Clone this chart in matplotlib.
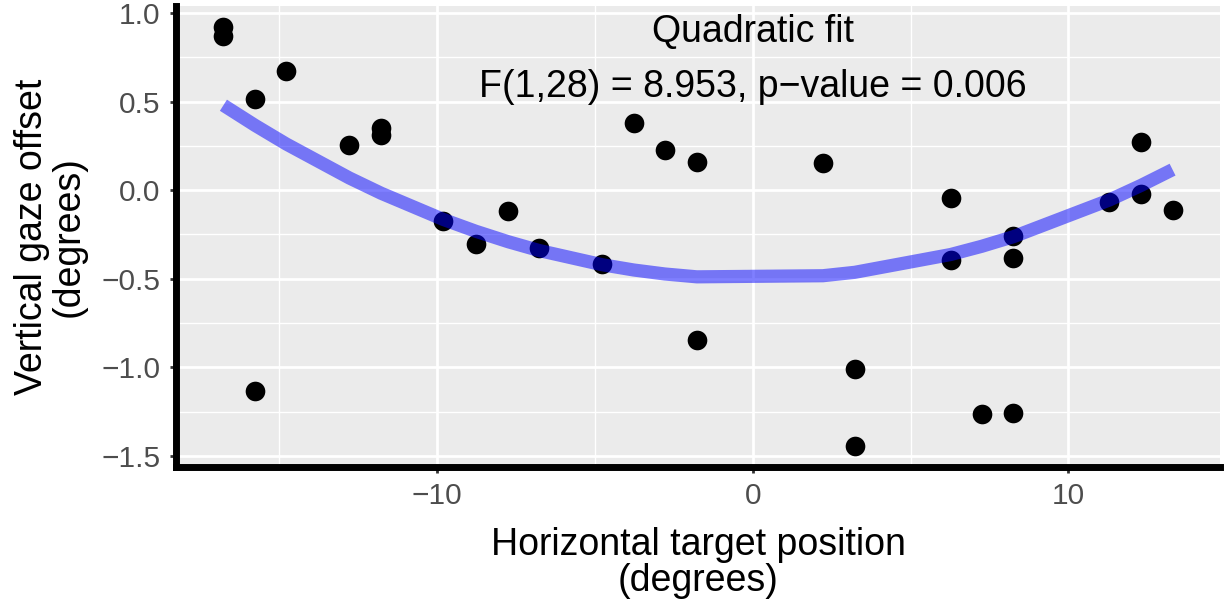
import numpy as np
import matplotlib.pyplot as plt
from matplotlib.ticker import MultipleLocator

plt.rcParams['font.family'] = ['Liberation Sans', 'DejaVu Sans']

# horizontal target position (deg) and vertical gaze offset (deg)
target_x = [-16.77, -16.77, -15.76, -15.76, -14.78, -12.78, -11.77, -11.77,
            -9.81, -8.77, -7.75, -6.77, -4.78, -3.77, -2.78, -1.77, -1.77,
            2.22, 3.23, 3.23, 6.27, 6.27, 7.25, 8.26, 8.26, 8.26,
            11.3, 12.3, 12.3, 13.3]
gaze_y = [0.921, 0.871, 0.517, -1.135, 0.674, 0.253, 0.348, 0.309,
          -0.174, -0.303, -0.118, -0.326, -0.416, 0.376, 0.225, 0.157, -0.843,
          0.152, -1.011, -1.444, -0.045, -0.393, -1.264, -0.258, -0.382, -1.258,
          -0.067, 0.270, -0.022, -0.112]

fit_title = 'Quadratic fit'
fit_stats = 'F(1,28) = 8.953, p\u2212value = 0.006'

x = np.array(target_x)
y = np.array(gaze_y)

# y = a + b*x^2 fit, evaluated at the observed positions
A = np.column_stack([np.ones_like(x), x ** 2])
coef = np.linalg.lstsq(A, y, rcond=None)[0]
xs = np.unique(x)
ys = coef[0] + coef[1] * xs ** 2

fig = plt.figure(figsize=(12.28, 6.05), dpi=100)
ax = fig.add_axes([0.1433, 0.228, 0.8502, 0.7622])
ax.set_facecolor('#EBEBEB')

ax.scatter(x, y, s=200, color='black', zorder=2, linewidths=0)
ax.plot(xs, ys, color='blue', alpha=0.5, lw=9.5, zorder=3,
        solid_capstyle='butt', solid_joinstyle='round')

ax.text(0, 0.89, fit_title, ha='center', va='center', fontsize=27)
ax.text(0, 0.58, fit_stats, ha='center', va='center', fontsize=27)

# ggplot-like 5% expansion
dx = (x.max() - x.min()) * 0.05
dy = (y.max() - y.min()) * 0.05
ax.set_xlim(x.min() - dx, x.max() + dx)
ax.set_ylim(y.min() - dy, y.max() + dy)

ax.xaxis.set_major_locator(MultipleLocator(10))
ax.xaxis.set_minor_locator(MultipleLocator(5))
ax.yaxis.set_major_locator(MultipleLocator(0.5))
ax.yaxis.set_minor_locator(MultipleLocator(0.25))
ax.yaxis.set_major_formatter(plt.FuncFormatter(lambda v, p: f'{v:.1f}'.replace('-', '\u2212')))
ax.grid(which='major', color='white', lw=2.0, zorder=0)
ax.grid(which='minor', color='white', lw=1.0, zorder=0)
ax.set_axisbelow(True)

for s in ['top', 'right']:
    ax.spines[s].set_visible(False)
for s in ['left', 'bottom']:
    ax.spines[s].set_linewidth(5)
    ax.spines[s].set_color('black')

ax.tick_params(which='major', length=4, width=2, color='#333333',
               labelsize=21.5, labelcolor='#4D4D4D', pad=7)
ax.tick_params(which='minor', length=0)

ax.set_xlabel('Horizontal target position\n(degrees)', fontsize=27,
              linespacing=1.0, labelpad=12)
ax.set_ylabel('Vertical gaze offset\n(degrees)', fontsize=27,
              linespacing=1.0, labelpad=11)

fig.savefig('out.png', dpi=100)
